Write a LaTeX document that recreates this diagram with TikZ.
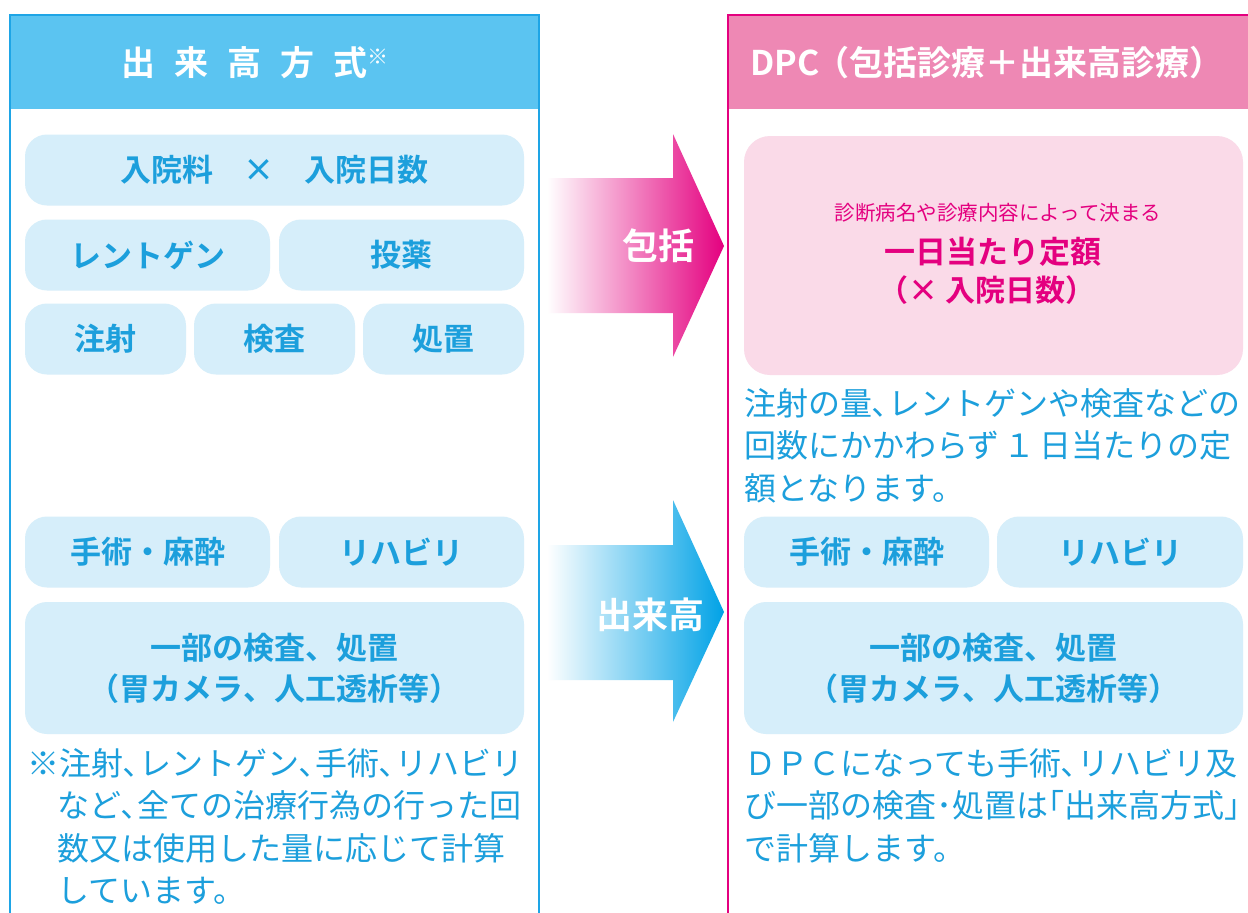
\documentclass[tikz,border=0pt]{standalone}
\usepackage{fontspec}
\setmainfont{Noto Sans CJK JP}[BoldFont={* Bold}]
\definecolor{hdrblue}{HTML}{5BC4F1}
\definecolor{lineblue}{HTML}{1EA5E6}
\definecolor{cellblue}{HTML}{D6EEFA}
\definecolor{txtblue}{HTML}{1C9FDC}
\definecolor{arrowblue}{HTML}{00A2E6}
\definecolor{hdrpink}{HTML}{EE88B4}
\definecolor{linepink}{HTML}{E4007F}
\definecolor{cellpink}{HTML}{FADAE8}
\definecolor{txtpink}{HTML}{E4007F}
\begin{document}
\begin{tikzpicture}[x=1pt,y=-1pt,
	cell/.style={rectangle, rounded corners=22pt, fill=cellblue, text=txtblue, minimum height=71pt, inner sep=0pt, font=\bfseries\fontsize{31}{41}\selectfont, align=center},
	note/.style={anchor=north west, align=left, inner sep=0pt, text=txtblue, font=\fontsize{32}{42.5}\selectfont},
	head/.style={rectangle, anchor=north west, minimum height=94pt, inner sep=0pt, text=white, font=\bfseries\fontsize{34}{40}\selectfont},
	arrowtext/.style={text=white, font=\bfseries\fontsize{36}{40}\selectfont}]
	\clip (0,0) rectangle (1248,913);
	\fill[white] (0,0) rectangle (1248,913);

	% Left panel
	\node[head, fill=hdrblue, minimum width=529pt] (lefthead) at (10,15) {出\hspace{19pt}来\hspace{19pt}高\hspace{19pt}方\hspace{19pt}式\raisebox{11pt}{\fontsize{21}{22}\selectfont ※}\kern40pt};
	\draw[lineblue, line width=1.5pt] (10,930) -- (10,15) -- (539,15) -- (539,930);

	\node[cell, minimum width=499pt] (nyuin) at (274.5,170) {入院料\hspace{30pt}×\hspace{30pt}入院日数};
	\node[cell, minimum width=245pt] (xray) at (147.5,255) {レントゲン};
	\node[cell, minimum width=245pt] (toyaku) at (401.5,255) {投薬};
	\node[cell, minimum width=161pt] (chusha) at (105.5,339) {注射};
	\node[cell, minimum width=161pt] (kensa) at (274.5,339) {検査};
	\node[cell, minimum width=161pt] (shochi) at (443.5,339) {処置};
	\node[cell, minimum width=245pt] (shujutsuL) at (147.5,552) {手術・麻酔};
	\node[cell, minimum width=245pt] (rehaL) at (401.5,552) {リハビリ};
	\node[cell, minimum width=499pt, minimum height=132pt] (ichibuL) at (274.5,668) {一部の検査、処置\\（胃カメラ、人工透析等）};

	\node[note] (noteL) at (27,748) {※注射､レントゲン､手術､リハビリ\\
		\hspace*{30pt}など､全ての治療行為の行った回\\
		\hspace*{30pt}数又は使用した量に応じて計算\\
		\hspace*{30pt}しています。};

	% Arrows
	\shade[left color=white, right color=txtpink] (547,178) -- (673,178) -- (673,134) -- (724,246) -- (673,357) -- (673,313) -- (547,313) -- cycle;
	\node[arrowtext] (hokatsu) at (658,246) {包括};
	\shade[left color=white, right color=arrowblue] (547,545) -- (673,545) -- (673,500) -- (724,612) -- (673,722) -- (673,680) -- (547,680) -- cycle;
	\node[arrowtext] (dekidaka) at (650,615) {出来高};

	% Right panel
	\node[head, fill=hdrpink, minimum width=530pt, text width=510pt, align=left] (righthead) at (728,15) {\hspace{12pt}DPC\hspace{-4pt}（包括診療＋出来高診療）};
	\draw[linepink, line width=1.5pt] (728,930) -- (728,15) -- (1260,15);

	\node[rectangle, rounded corners=26pt, fill=cellpink, minimum width=499pt, minimum height=239pt] (teigaku) at (993.5,255.5) {};
	\node[text=txtpink, font=\fontsize{20.5}{24}\selectfont] (kimaru) at (998,213) {診断病名や診療内容によって決まる};
	\node[text=txtpink, font=\bfseries\fontsize{31}{36}\selectfont] (ichinichi) at (993,252) {一日当たり定額};
	\node[text=txtpink, font=\bfseries\fontsize{30}{36}\selectfont] (nissu) at (987,290) {（× 入院日数）};

	\node[note] (noteR1) at (744,388) {注射の量､レントゲンや検査などの\\
		回数にかかわらず\hspace{4pt}１\hspace{4pt}日当たりの定\\
		額となります。};

	\node[cell, minimum width=245pt] (shujutsuR) at (866.5,552) {手術・麻酔};
	\node[cell, minimum width=246pt] (rehaR) at (1120,552) {リハビリ};
	\node[cell, minimum width=499pt, minimum height=132pt] (ichibuR) at (993.5,668) {一部の検査、処置\\（胃カメラ、人工透析等）};

	\node[note] (noteR2) at (744,748) {ＤＰＣになっても手術､リハビリ及\\
		び一部の検査･処置は｢出来高方式｣\\
		で計算します。};
\end{tikzpicture}
\end{document}
